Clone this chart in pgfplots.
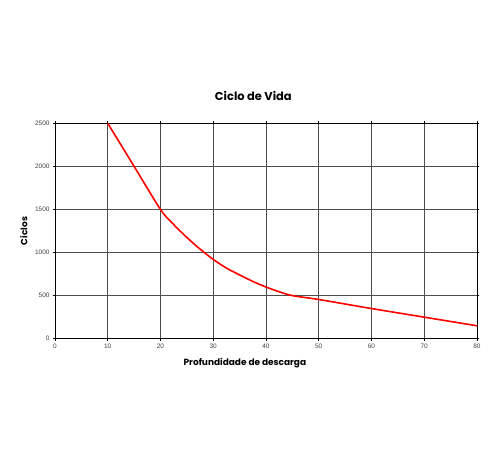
\documentclass[border=0pt]{standalone}
\usepackage{fontspec}
\setmainfont{Liberation Sans}
\newfontfamily\titlefont{Poppins}
\usepackage{pgfplots}
\pgfplotsset{compat=1.18}
\begin{document}
\begin{tikzpicture}
\begin{axis}[
  at={(0,0)}, anchor=south west,
  width=422bp, height=215.4bp, scale only axis,
  xmin=0, xmax=80, ymin=0, ymax=2500,
  xtick={0,10,...,80}, ytick={0,500,...,2500},
  grid=major,
  major grid style={draw=black!70, line width=0.6pt},
  axis line style={draw=black, line width=0.9pt},
  tick style={draw=black, line width=0.6pt},
  tick align=outside, major tick length=2pt,
  every tick label/.append style={font=\fontsize{6.5}{7.5}\selectfont, text=black!75},
  /pgf/number format/assume math mode=true,
  /pgf/number format/1000 sep={},
  scaled y ticks=false,
  title={\titlefont\bfseries Ciclo de Vida},
  title style={font=\fontsize{11.5}{13}\selectfont, at={(axis description cs:0.47,1)}, anchor=south, yshift=13pt},
  xlabel={\titlefont\bfseries Profundidade de descarga},
  xlabel style={font=\fontsize{9}{10}\selectfont, at={(axis description cs:0.45,0)}, anchor=north, yshift=-16pt},
  ylabel={\titlefont\bfseries Ciclos},
  ylabel style={font=\fontsize{9}{10}\selectfont, at={(axis description cs:0,0.5)}, anchor=south, yshift=24pt},
]
\addplot[red, line width=1.6pt, smooth, tension=0.5] coordinates {
  (10,2500) (15,2000) (20,1500) (22.5,1325) (25,1175) (27.5,1040) (30,920) (32.5,820) (35,740) (37.5,665) (40,600) (42.5,545) (45,500) (50,455) (60,350) (70,250) (80,150)
};
\end{axis}
\path (-55bp,-121.3bp) rectangle (445bp,338.7bp);
\end{tikzpicture}
\end{document}
